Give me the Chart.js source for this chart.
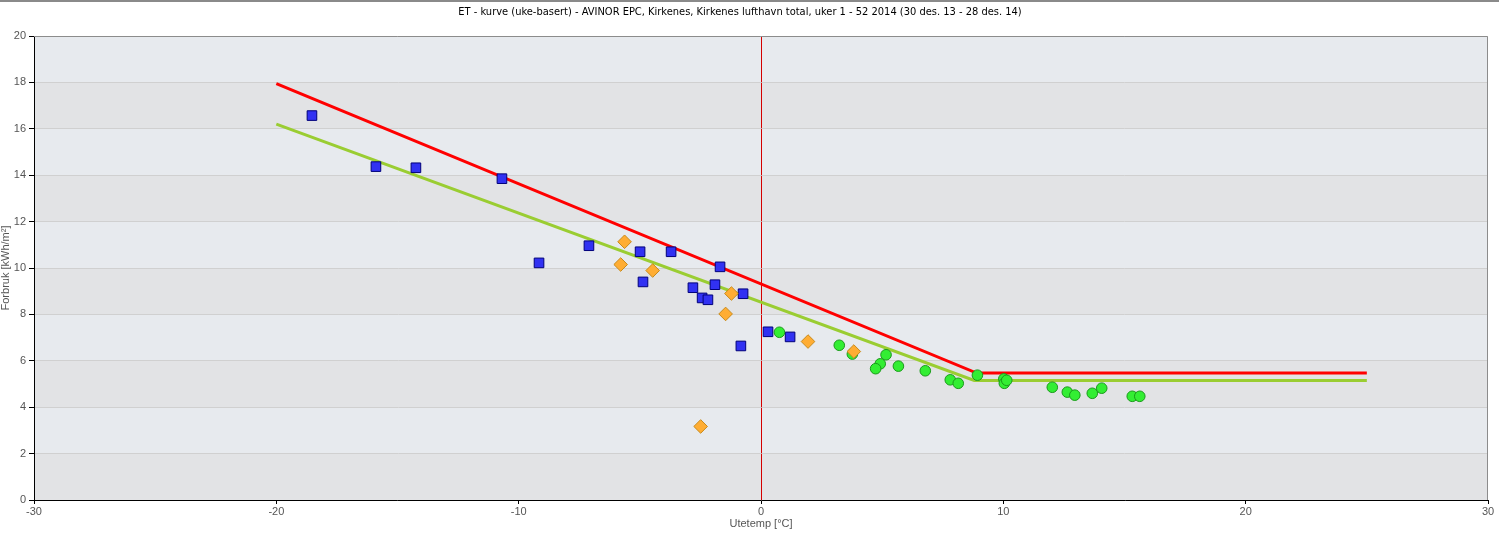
<!DOCTYPE html>
<html>
<head>
<meta charset="utf-8">
<script src="https://cdn.jsdelivr.net/npm/chart.js@4/dist/chart.umd.min.js"></script>
<style>
  html, body { margin: 0; padding: 0; background: #fff; }
  #wrap { width: 1499px; height: 543px; position: relative; }
</style>
</head>
<body>
<div id="wrap"><canvas id="etChart"></canvas></div>
<script>
// ET-kurve, Kirkenes lufthavn 2014
const chartTitle = 'ET - kurve (uke-basert) - AVINOR EPC, Kirkenes, Kirkenes lufthavn total, uker 1 - 52 2014 (30 des. 13 - 28 des. 14)';
const xAxisTitle = 'Utetemp [°C]';
const yAxisTitle = 'Forbruk [kWh/m²]';

// x ticks -30..30, y ticks 0..20
const xTicks = [-30, -20, -10, 0, 10, 20, 30];
const yTicks = [0, 2, 4, 6, 8, 10, 12, 14, 16, 18, 20];

// blue squares
const blueTemp = [-18.53, -15.89, -14.24, -10.69, -9.16, -7.10, -4.99, -4.87, -3.71, -2.81, -2.43, -2.19, -1.90, -1.69, -0.74, -0.83, 0.29, 1.20];
const blueUse  = [16.57, 14.37, 14.32, 13.85, 10.22, 10.96, 10.70, 9.40, 10.70, 9.15, 8.71, 8.63, 9.28, 10.05, 8.89, 6.64, 7.25, 7.03];

// orange diamonds
const orangeTemp = [-5.63, -5.79, -4.47, -1.22, -1.46, -2.49, 1.94, 3.83];
const orangeUse  = [11.13, 10.15, 9.89, 8.90, 8.02, 3.17, 6.83, 6.40];

// green circles
const greenTemp = [0.76, 3.23, 3.77, 5.16, 4.92, 4.73, 5.67, 6.78, 7.81, 8.14, 8.93, 10.02, 10.04, 10.14, 12.02, 12.64, 12.95, 13.67, 14.06, 15.32, 15.63];
const greenUse  = [7.23, 6.67, 6.29, 6.26, 5.87, 5.66, 5.77, 5.57, 5.18, 5.03, 5.38, 5.22, 5.03, 5.16, 4.86, 4.65, 4.52, 4.60, 4.82, 4.47, 4.47];

// ET lines
const redLineTemp = [-20, 8.9, 25];
const redLineUse  = [17.95, 5.47, 5.47];
const greenLineTemp = [-20, 8.8, 25];
const greenLineUse  = [16.2, 5.15, 5.15];

function pts(xs, ys) {
    return xs.map((x, i) => ({ x: x, y: ys[i] }));
}

const tickFont = { family: 'Liberation Sans, Arial, sans-serif', size: 11 };

// alternating bands + frame + title
const decorPlugin = {
    id: 'decor',
    beforeDraw(chart) {
        const { ctx, chartArea, scales } = chart;
        ctx.save();
        for (let i = 0; i < yTicks.length - 1; i++) {
            const yTop = scales.y.getPixelForValue(yTicks[i + 1]);
            const yBot = scales.y.getPixelForValue(yTicks[i]);
            ctx.fillStyle = i % 2 === 0 ? '#e2e3e5' : '#e7eaee';
            ctx.fillRect(chartArea.left, yTop, chartArea.right - chartArea.left, yBot - yTop);
        }
        ctx.restore();
    },
    afterDraw(chart) {
        const { ctx, chartArea } = chart;
        ctx.save();
        ctx.strokeStyle = '#8c8c8c';
        ctx.lineWidth = 1;
        ctx.beginPath();
        ctx.moveTo(chartArea.left, chartArea.top + 0.5);
        ctx.lineTo(chartArea.right - 0.5, chartArea.top + 0.5);
        ctx.lineTo(chartArea.right - 0.5, chartArea.bottom);
        ctx.stroke();
        // top page border
        ctx.fillStyle = '#8a8a8a';
        ctx.fillRect(0, 0, chart.width, 2);
        // title
        ctx.fillStyle = '#000';
        ctx.font = '11px "Liberation Sans Narrow", "DejaVu Sans Condensed", Arial, sans-serif';
        ctx.textAlign = 'center';
        ctx.textBaseline = 'middle';
        ctx.fillText(chartTitle, 740, 12);
        ctx.restore();
    }
};

const ctx = document.getElementById('etChart').getContext('2d');
const etChart = new Chart(ctx, {
    type: 'scatter',
    data: {
        datasets: [
            {
                label: 'Uker (orange)',
                data: pts(orangeTemp, orangeUse),
                pointStyle: 'rectRot',
                pointRadius: 6.8,
                backgroundColor: '#ffad33',
                borderColor: '#c88a1a',
                borderWidth: 1,
                order: 1
            },
            {
                label: 'Uker (grønn)',
                data: pts(greenTemp, greenUse),
                pointStyle: 'circle',
                pointRadius: 5.3,
                backgroundColor: '#33ee33',
                borderColor: '#1a9a1a',
                borderWidth: 1,
                order: 2
            },
            {
                label: 'Uker (blå)',
                data: pts(blueTemp, blueUse),
                pointStyle: 'rect',
                pointRadius: 6.8,
                backgroundColor: '#3131f2',
                borderColor: '#00007a',
                borderWidth: 1,
                order: 3
            },
            {
                label: 'ET-kurve',
                data: pts(redLineTemp, redLineUse),
                showLine: true,
                pointRadius: 0,
                borderColor: '#ff0000',
                borderWidth: 3,
                order: 4
            },
            {
                label: 'ET-kurve 2',
                data: pts(greenLineTemp, greenLineUse),
                showLine: true,
                pointRadius: 0,
                borderColor: '#9acd32',
                borderWidth: 3,
                order: 5
            }
        ]
    },
    options: {
        responsive: true,
        maintainAspectRatio: false,
        animation: false,
        layout: { padding: { top: 36, right: 11, left: 0, bottom: 0 } },
        plugins: {
            legend: { display: false },
            title: { display: false },
            tooltip: { enabled: false }
        },
        scales: {
            x: {
                type: 'linear',
                min: -30,
                max: 30,
                afterBuildTicks: (scale) => { scale.ticks = xTicks.map(v => ({ value: v })); },
                afterFit: (scale) => { scale.height = 43; },
                ticks: { color: '#555', font: tickFont, padding: 1, maxRotation: 0 },
                grid: {
                    color: (c) => (c.tick && c.tick.value === 0 ? '#d40000' : 'rgba(0,0,0,0)'),
                    lineWidth: 1,
                    drawTicks: true,
                    tickLength: 4,
                    tickColor: '#000'
                },
                border: { color: '#000', width: 1 },
                title: {
                    display: true,
                    text: xAxisTitle,
                    color: '#555',
                    font: tickFont,
                    padding: { top: 0, bottom: 12 }
                }
            },
            y: {
                type: 'linear',
                min: 0,
                max: 20,
                afterBuildTicks: (scale) => { scale.ticks = yTicks.map(v => ({ value: v })); },
                afterFit: (scale) => { scale.width = 34; },
                ticks: { color: '#555', font: tickFont, padding: 3 },
                grid: {
                    color: '#d0d0d0',
                    lineWidth: 1,
                    drawTicks: true,
                    tickLength: 5,
                    tickColor: '#000'
                },
                border: { color: '#000', width: 1 },
                title: {
                    display: true,
                    text: yAxisTitle,
                    color: '#555',
                    font: { family: 'Liberation Sans, Arial, sans-serif', size: 11, lineHeight: 1 },
                    padding: 0
                }
            }
        }
    },
    plugins: [decorPlugin]
});
</script>
</body>
</html>
